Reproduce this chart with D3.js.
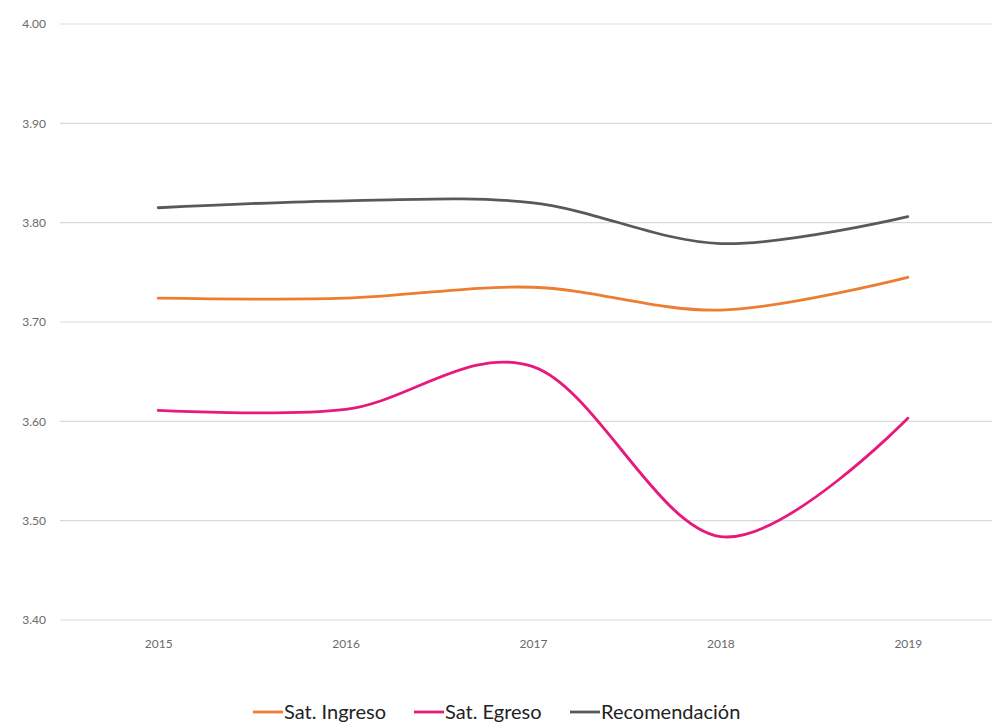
<!DOCTYPE html>
<html>
<head>
<meta charset="utf-8">
<script src="https://cdn.jsdelivr.net/npm/d3@7"></script>
<style>
  html, body { margin: 0; padding: 0; background: #fff; }
  svg { display: block; }
</style>
</head>
<body>
<svg id="chart" width="992" height="724"></svg>
<script>
// Survey scores per year
const years = ["2015", "2016", "2017", "2018", "2019"];
const satIngreso = [3.724, 3.724, 3.735, 3.712, 3.745];
const satEgreso = [3.611, 3.612, 3.655, 3.484, 3.603];
const recomendacion = [3.815, 3.822, 3.820, 3.779, 3.806];
const seriesNames = ["Sat. Ingreso", "Sat. Egreso", "Recomendación"];
const seriesColors = ["#ED7D31", "#E8197A", "#595959"];
const yTicks = [3.40, 3.50, 3.60, 3.70, 3.80, 3.90, 4.00];

const series = [satIngreso, satEgreso, recomendacion].map((values, i) => ({
  name: seriesNames[i], color: seriesColors[i],
  points: values.map((v, j) => ({ year: years[j], value: v }))
}));

const svg = d3.select("#chart");
const plotLeft = 64.5, plotRight = 1001.5, plotTop = 24, plotBottom = 620;

const x = d3.scalePoint().domain(years).range([plotLeft, plotRight]).padding(0.5);
const y = d3.scaleLinear().domain([3.40, 4.00]).range([plotBottom, plotTop]);

// Horizontal gridlines
svg.append("g")
  .selectAll("line")
  .data(yTicks)
  .join("line")
  .attr("x1", 60).attr("x2", 992)
  .attr("y1", d => y(d)).attr("y2", d => y(d))
  .attr("stroke", "#d9d9d9").attr("stroke-width", 1.2);

// Y axis labels
const yAxis = d3.axisLeft(y).tickValues(yTicks).tickFormat(d3.format(".2f")).tickSize(0).tickPadding(0);
svg.append("g")
  .attr("transform", "translate(46,0)")
  .call(yAxis)
  .call(g => g.select(".domain").remove())
  .call(g => g.selectAll("text")
    .attr("fill", "#6a6a6a")
    .attr("font-family", "Lato, 'Open Sans', sans-serif")
    .attr("font-size", 12));

// X axis labels
const xAxis = d3.axisBottom(x).tickSize(0).tickPadding(0);
svg.append("g")
  .attr("transform", "translate(0,639)")
  .call(xAxis)
  .call(g => g.select(".domain").remove())
  .call(g => g.selectAll("text")
    .attr("fill", "#6a6a6a")
    .attr("font-family", "Lato, 'Open Sans', sans-serif")
    .attr("font-size", 12));

// Smoothed series lines
const line = d3.line()
  .x(d => x(d.year))
  .y(d => y(d.value))
  .curve(d3.curveCardinal.tension(0));

svg.append("g")
  .selectAll("path")
  .data(series)
  .join("path")
  .attr("d", d => line(d.points))
  .attr("fill", "none")
  .attr("stroke", d => d.color)
  .attr("stroke-width", 2.8)
  .attr("stroke-linecap", "round");

// Legend
const legendItems = [
  { x: 253, i: 0 },
  { x: 414, i: 1 },
  { x: 570, i: 2 }
];
const legend = svg.append("g").attr("transform", "translate(0,712)");
legendItems.forEach(({ x: lx, i }) => {
  legend.append("line")
    .attr("x1", lx).attr("x2", lx + 30)
    .attr("y1", 0).attr("y2", 0)
    .attr("stroke", seriesColors[i]).attr("stroke-width", 2.8);
  legend.append("text")
    .attr("x", lx + 31).attr("y", 7)
    .attr("fill", "#222")
    .attr("font-family", "Lato, 'Open Sans', sans-serif")
    .attr("font-size", 20)
    .text(seriesNames[i]);
});
</script>
</body>
</html>
